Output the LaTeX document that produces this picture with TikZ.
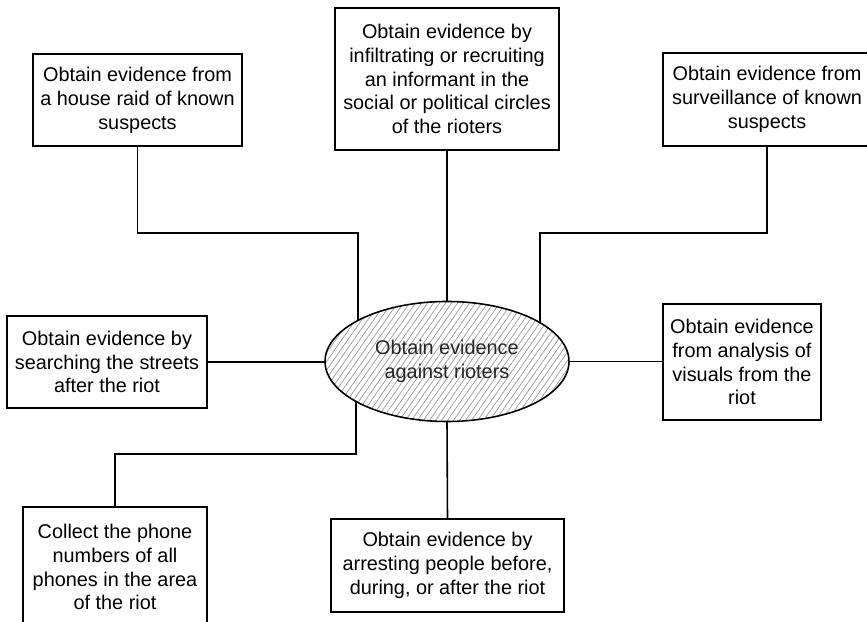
\documentclass[tikz,border=0pt]{standalone}
\usepackage{fontspec}
\setmainfont{Liberation Sans}
\usetikzlibrary{shapes.geometric, patterns.meta}

\begin{document}
\begin{tikzpicture}[thick,
  box/.style={draw, line width=0.9pt, align=center, inner sep=0pt,
              font=\fontsize{11.3}{13.6}\selectfont},
  link/.style={line width=0.9pt}]

  \useasboundingbox (0,0) rectangle (17.34,12.44);

  % -- Central goal (hatched ellipse) --
  \node[ellipse, draw, line width=0.9pt, minimum width=4.88cm, minimum height=2.40cm,
        inner sep=0pt, pattern={Lines[angle=55, distance=2.8pt, line width=0.4pt]},
        pattern color=gray!80, align=center, text=black!85,
        font=\fontsize{11.3}{13.6}\selectfont] (goal) at (8.94, 5.21) {Obtain evidence\\against rioters};

  % -- Top row --
  \node[box, minimum width=4.18cm, minimum height=1.84cm] (raid) at (2.75, 10.44)
    {Obtain evidence from\\a house raid of known\\suspects};
  \node[box, minimum width=4.48cm, minimum height=2.84cm] (informant) at (8.94, 10.86)
    {Obtain evidence by\\infiltrating or recruiting\\an informant in the\\social or political circles\\of the rioters};
  \node[box, minimum width=4.16cm, minimum height=1.86cm] (surveil) at (15.34, 10.45)
    {Obtain evidence from\\surveillance of known\\suspects};

  % -- Middle row --
  \node[box, minimum width=4.00cm, minimum height=1.84cm] (streets) at (2.14, 5.20)
    {Obtain evidence by\\searching the streets\\after the riot};
  \node[box, minimum width=3.16cm, minimum height=2.32cm] (visuals) at (14.84, 5.20)
    {Obtain evidence\\from analysis of\\visuals from the\\riot};

  % -- Bottom row --
  \node[box, minimum width=3.68cm, minimum height=2.40cm] (phones) at (2.30, 1.10)
    {Collect the phone\\numbers of all\\phones in the area\\of the riot};
  \node[box, minimum width=4.66cm, minimum height=1.86cm] (arrest) at (8.95, 1.13)
    {Obtain evidence by\\arresting people before,\\during, or after the riot};

  % Connectors
  \draw[link] (raid.south) -- ++(0,-1.72) -| (goal.155.3);
  \draw[link] (informant.south) -- (goal.north);
  \draw[link] (surveil.south) -- ++(0,-1.72) -| (goal.23.7);
  \draw[link] (streets.east) -- (streets.east -| goal.west);
  \draw[link] (goal.east) -- (goal.east -| visuals.west);
  \draw[link] (goal.south) -- (arrest.north);
  \draw[link] (goal.204.7) |- ([yshift=1.04cm]phones.north) -- (phones.north);

\end{tikzpicture}
\end{document}
